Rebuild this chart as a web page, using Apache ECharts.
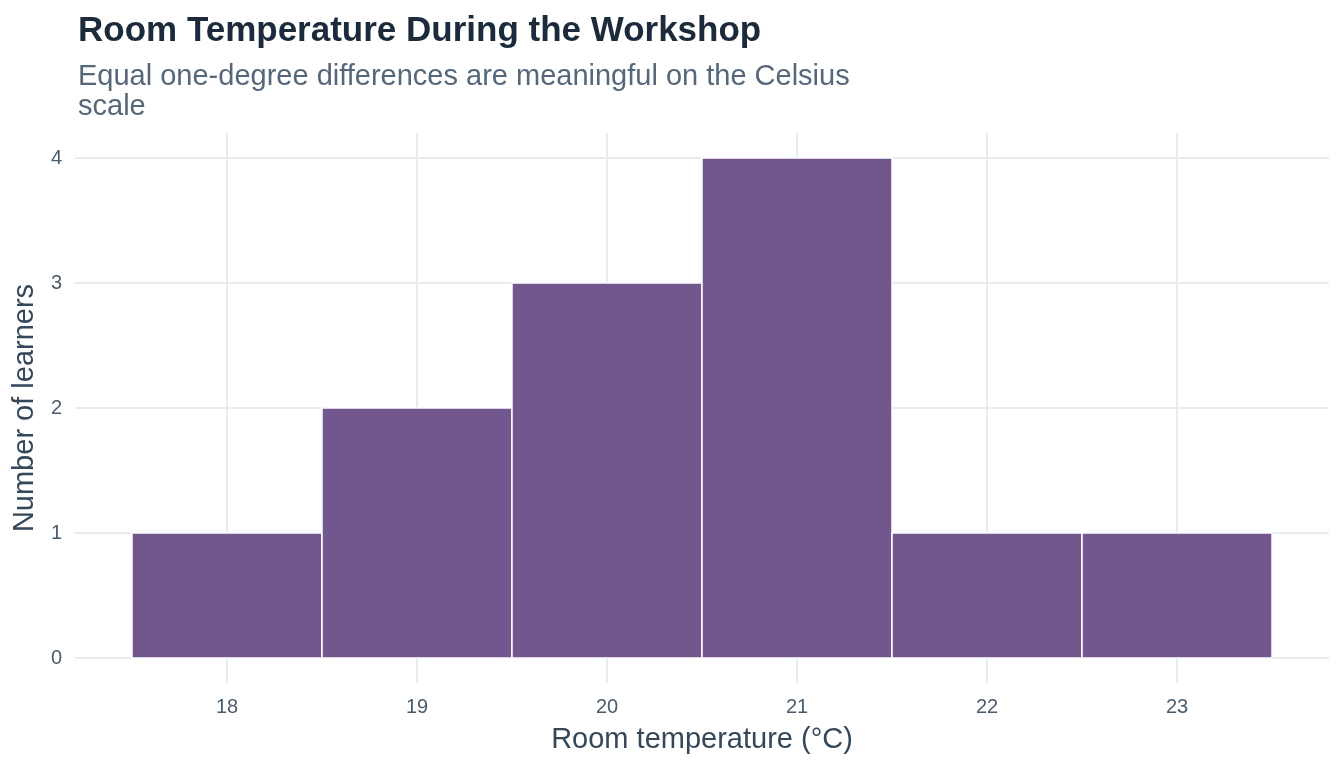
<!doctype html>
<html lang="en">
<head>
    <meta charset="UTF-8">
    <title>Room Temperature During the Workshop</title>
    <script src="https://cdn.jsdelivr.net/npm/echarts@6/dist/echarts.min.js"></script>
    <style>
        html, body { margin: 0; padding: 0; background: #fff; }
        #chart { width: 1344px; height: 768px; }
    </style>
</head>
<body>
<div id="chart"></div>
<script type="text/javascript">
    // 数据
    var temps = [18, 19, 20, 21, 22, 23];      // 温度分组中心
    var learners = [1, 2, 3, 4, 1, 1];         // 每组人数
    var xTicks = [18, 19, 20, 21, 22, 23];
    var yTicks = [0, 1, 2, 3, 4];
    var binWidth = 1;

    var font = '"Liberation Sans", Arial, sans-serif';
    var gridColor = '#e8ecf1';

    var seriesData = temps.map(function (t, i) {
        return [t - binWidth / 2, t + binWidth / 2, learners[i]];
    });

    var myChart = echarts.init(document.getElementById('chart'));
    var option = {
        backgroundColor: '#ffffff',
        animation: false,
        title: [{
            text: 'Room Temperature During the Workshop',
            left: 73, top: 9,
            textStyle: { fontFamily: font, fontSize: 35, fontWeight: 'bold', color: '#1b2b3b' }
        }, {
            text: 'Equal one-degree differences are meaningful on the Celsius\nscale',
            left: 73, top: 57,
            textStyle: { fontFamily: font, fontSize: 29, fontWeight: 'normal', color: '#56677a', lineHeight: 30 }
        }],
        grid: { left: 75, right: 15, top: 133, bottom: 85, outerBoundsMode: 'none' },
        xAxis: {
            type: 'value',
            min: 17.2, max: 23.8,
            name: 'Room temperature (°C)',
            nameLocation: 'middle',
            nameGap: 42,
            nameTextStyle: { fontFamily: font, fontSize: 29, color: '#34475b' },
            axisLine: { show: false },
            axisTick: { show: false, customValues: xTicks },
            axisLabel: { customValues: xTicks, fontFamily: font, fontSize: 20, color: '#4a5b6c', margin: 14 },
            splitLine: { show: true, lineStyle: { color: gridColor, width: 2 } }
        },
        yAxis: {
            type: 'value',
            min: -0.2, max: 4.2,
            name: 'Number of learners',
            nameLocation: 'middle',
            nameGap: 31,
            nameTextStyle: { fontFamily: font, fontSize: 29, color: '#34475b' },
            axisLine: { show: false },
            axisTick: { show: false, customValues: yTicks },
            axisLabel: { customValues: yTicks, fontFamily: font, fontSize: 20, color: '#4a5b6c', margin: 13 },
            splitLine: { show: true, lineStyle: { color: gridColor, width: 2 } }
        },
        series: [{
            type: 'custom',
            data: seriesData,
            encode: { x: [0, 1], y: 2 },
            renderItem: function (params, api) {
                var p0 = api.coord([api.value(0), 0]);
                var p1 = api.coord([api.value(1), api.value(2)]);
                return {
                    type: 'rect',
                    shape: { x: p0[0], y: p1[1], width: p1[0] - p0[0], height: p0[1] - p1[1] },
                    style: { fill: '#72578e', stroke: '#ffffff', lineWidth: 1.5 }
                };
            }
        }]
    };
    myChart.setOption(option);
</script>
</body>
</html>
